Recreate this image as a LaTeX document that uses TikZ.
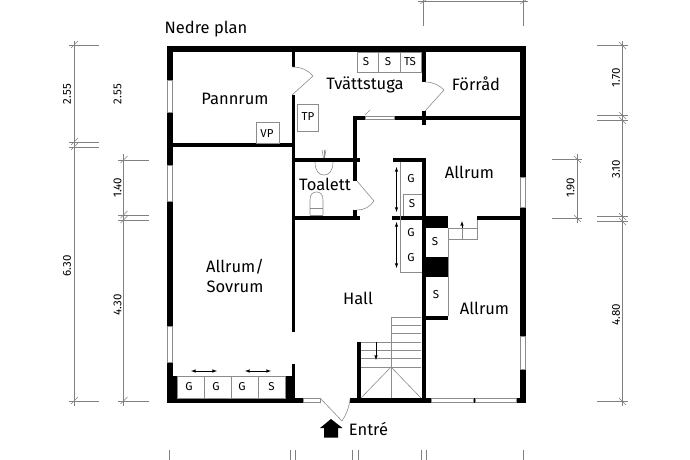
\documentclass[tikz,border=0pt]{standalone}
\usepackage{fontspec}
\setmainfont{Fira Sans}
\usetikzlibrary{arrows}

\begin{document}
\begin{tikzpicture}[x=1pt,y=-1pt]
	\tikzstyle{wall}=[fill=black,draw=none]
	\tikzstyle{fixture}=[draw=black!45,line width=0.6pt]
	\tikzstyle{dimline}=[draw=black!50,line width=0.5pt]
	\tikzstyle{pane}=[fill=white,draw=black!45,line width=0.8pt]
	\tikzstyle{room}=[inner sep=0pt,font=\fontsize{16.5}{20}\selectfont,align=center]
	\tikzstyle{unit}=[inner sep=0pt,font=\fontsize{11.5}{13}\selectfont]
	\tikzstyle{dimtext}=[inner sep=0pt,rotate=90,font=\fontsize{11.5}{13}\selectfont]
	\tikzstyle{slide}=[draw=black,line width=0.6pt,>=latex]
	\useasboundingbox (0,0) rectangle (690,460);
	% outer walls
	\fill[wall] (166.5,46) rectangle (526,52);
	\fill[wall] (166.5,46) rectangle (172.5,403);
	\fill[wall] (520,46) rectangle (526,403);
	\fill[wall] (166.5,398) rectangle (303,403);
	\fill[wall] (320,398) rectangle (321,403);
	\fill[wall] (350,398) rectangle (431,403);
	\fill[wall] (473,398) rectangle (475,403);
	\fill[wall] (516,398) rectangle (526,403);
	% inner walls
	\fill[wall] (291.5,46) rectangle (295,67);
	\fill[wall] (291.5,95) rectangle (295,332);
	\fill[wall] (291.5,364) rectangle (295,398);
	\fill[wall] (285,376) rectangle (295,398);
	\fill[wall] (172,376) rectangle (177,398);
	\fill[wall] (172,143) rectangle (292,147);
	\fill[wall] (295,157.5) rectangle (360,161.5);
	\fill[wall] (295,216) rectangle (360,220);
	\fill[wall] (352.5,116) rectangle (357,181);
	\fill[wall] (352.5,210) rectangle (357,217);
	\fill[wall] (352.5,116) rectangle (365,120);
	\fill[wall] (394,116) rectangle (520,120);
	\fill[wall] (421.5,46) rectangle (425.5,82);
	\fill[wall] (421.5,111) rectangle (425.5,125);
	\fill[wall] (393,158) rectangle (425.5,162);
	\fill[wall] (392,216) rectangle (425.5,220);
	\fill[wall] (421.5,158) rectangle (425.5,398);
	\fill[wall] (425,216) rectangle (448,228);
	\fill[wall] (425,257) rectangle (448,276.5);
	\fill[wall] (425,316) rectangle (448,320);
	\fill[wall] (477,216) rectangle (520,220);
	\fill[wall] (357,342) rectangle (361,398);
	% windows
	\filldraw[pane] (167,80) rectangle (172,112);
	\filldraw[pane] (167,165) rectangle (172,201);
	\filldraw[pane] (167,326) rectangle (172,362);
	\filldraw[pane] (520.5,177) rectangle (525.5,207);
	\filldraw[pane] (520.5,336) rectangle (525.5,369);
	\filldraw[pane] (431.5,398.5) rectangle (473,402.5);
	\filldraw[pane] (475,398.5) rectangle (516,402.5);
	\filldraw[pane] (303,398.5) rectangle (320,402.5);
	\filldraw[pane] (365,116.5) rectangle (394,119.5);
	\draw[fixture] (365,115) -- (370,110);
	% doors
	\draw[fixture] (292,67) .. controls (301,67) and (308,70) .. (313,76) -- (292,95);
	\draw[fixture] (425,82) .. controls (433,82) and (439,85) .. (444,90) -- (425,111);
	\draw[fixture] (357,181) -- (374,201) .. controls (370,207) and (364,210) .. (357,210);
	\draw[fixture] (321,399) -- (342,421) .. controls (346,415) and (349,408) .. (350,399);
	% units
	\draw[fixture] (357.5,52) rectangle (421.5,72);
	\draw[fixture] (378.5,52) -- (378.5,72);
	\draw[fixture] (400,52) -- (400,72);
	\draw[fixture] (256,122) rectangle (279,143);
	\draw[fixture] (297.5,104) rectangle (318.5,131);
	\draw[fixture] (177,376) rectangle (285,398);
	\draw[fixture] (204,376) -- (204,398);
	\draw[fixture] (231,376) -- (231,398);
	\draw[fixture] (258,376) -- (258,398);
	\draw[fixture] (400,162) -- (400,272) -- (421.5,272);
	\draw[fixture] (403.5,216) -- (403.5,194) -- (421.5,194);
	\draw[fixture] (448,228) -- (448,316);
	\draw[fixture] (448,228) -- (477,228);
	\draw[fixture] (477,220) -- (477,239) -- (448,239);
	\draw[fixture] (462,228) -- (462,239);
	% sink and toilet
	\draw[fixture] (315,162) .. controls (315,171) and (319,175) .. (324,175) .. controls (329,175) and (333,171) .. (333,162);
	\draw[fixture] (324,150) -- (324,158);
	\draw[fixture] (322,150) -- (323.5,158);
	\draw[fixture] (326,150) -- (324.5,158);
	\draw[fixture] (310,215) -- (310,200) .. controls (310,194) and (313,192) .. (316.5,192) .. controls (320,192) and (323,194) .. (323,200) -- (323,215);
	\draw[fixture] (310,208) -- (323,208);
	\draw[fixture] (310,215) -- (323,215);
	% stair
	\draw[fixture] (391,398) -- (391,317) -- (421,317);
	\draw[fixture] (391,325.5) -- (421,325.5);
	\draw[fixture] (391,333.5) -- (421,333.5);
	\draw[fixture] (361,342) -- (421,342);
	\draw[fixture] (361,350) -- (421,350);
	\draw[fixture] (361,358.5) -- (421,358.5);
	\draw[fixture] (361,367) -- (421,367);
	\draw[fixture] (361,398) -- (391,367) -- (421,398);
	\draw[slide,->] (376,342) -- (376,360);
	\draw[slide,->] (462,228) -- (462,221);
	\draw[slide,<->] (396.5,167) -- (396.5,212);
	\draw[slide,<->] (396.5,222) -- (396.5,268);
	\draw[slide,<->] (191,371) -- (217,371);
	\draw[slide,<->] (245,371) -- (271,371);
	% entrance
	\fill[wall] (331,419) -- (342.5,428) -- (338,428) -- (338,437.5) -- (324,437.5) -- (324,428) -- (320,428) -- cycle;
	% dimensions left
	\draw[dimline] (74,41) -- (74,406);
	\draw[dimline] (69,45) -- (99,45);
	\draw[dimline] (69,142) -- (99,142);
	\draw[dimline] (69,147) -- (99,147);
	\draw[dimline] (69,401) -- (99,401);
	\draw[dimline] (71,48) -- (78,41);
	\draw[dimline] (71,145) -- (78,138);
	\draw[dimline] (71,150) -- (78,143);
	\draw[dimline] (71,404) -- (78,397);
	\draw[dimline] (123.5,154) -- (123.5,406);
	\draw[dimline] (118,160) -- (149,160);
	\draw[dimline] (118,215) -- (149,215);
	\draw[dimline] (118,220) -- (149,220);
	\draw[dimline] (118,401) -- (149,401);
	\draw[dimline] (120.5,163) -- (127.5,156);
	\draw[dimline] (120.5,218) -- (127.5,211);
	\draw[dimline] (120.5,223) -- (127.5,216);
	\draw[dimline] (120.5,404) -- (127.5,397);
	% dimensions right
	\draw[dimline] (622.5,41) -- (622.5,406);
	\draw[dimline] (597,45) -- (628,45);
	\draw[dimline] (597,115) -- (628,115);
	\draw[dimline] (597,120) -- (628,120);
	\draw[dimline] (597,216) -- (628,216);
	\draw[dimline] (597,221) -- (628,221);
	\draw[dimline] (597,401) -- (628,401);
	\draw[dimline] (619,42) -- (626,49);
	\draw[dimline] (619,112) -- (626,119);
	\draw[dimline] (619,117) -- (626,124);
	\draw[dimline] (619,213) -- (626,220);
	\draw[dimline] (619,218) -- (626,225);
	\draw[dimline] (619,398) -- (626,405);
	\draw[dimline] (577,154) -- (577,223);
	\draw[dimline] (552,159) -- (582,159);
	\draw[dimline] (552,218) -- (582,218);
	\draw[dimline] (574,156) -- (581,163);
	\draw[dimline] (574,215) -- (581,222);
	% dimensions top and bottom
	\draw[dimline] (418,1) -- (528,1);
	\draw[dimline] (423,0) -- (423,26);
	\draw[dimline] (523,0) -- (523,26);
	\draw[dimline] (420,4) -- (426,0);
	\draw[dimline] (520,4) -- (526,0);
	\draw[dimline] (169,450) -- (169,460);
	\draw[dimline] (290,450) -- (290,460);
	\draw[dimline] (295,450) -- (295,460);
	\draw[dimline] (352,450) -- (352,460);
	\draw[dimline] (358,450) -- (358,460);
	\draw[dimline] (421,450) -- (421,460);
	\draw[dimline] (426,450) -- (426,460);
	\draw[dimline] (523,450) -- (523,460);
	% labels
	\node[room,anchor=west] (title) at (164.5,29) {Nedre plan};
	\node[room] (pannrum) at (235,99) {Pannrum};
	\node[room] (tvatt) at (365,85) {Tvättstuga};
	\node[room] (forrad) at (476,84) {Förråd};
	\node[room] (allrum1) at (469.5,172) {Allrum};
	\node[room] (toalett) at (325,184) {Toalett};
	\node[room] (sovrum) at (235,276) {Allrum/\\Sovrum};
	\node[room] (hall) at (358,298) {Hall};
	\node[room] (allrum2) at (484.5,308) {Allrum};
	\node[room] (entre) at (368.5,429) {Entré};
	\node[unit] (s1) at (366,62) {S};
	\node[unit] (s2) at (388,62) {S};
	\node[unit] (ts) at (410,62) {TS};
	\node[unit] (vp) at (267,134) {VP};
	\node[unit] (tp) at (308,117) {TP};
	\node[unit] (g1) at (411,179) {G};
	\node[unit] (s3) at (412,204) {S};
	\node[unit] (g2) at (411,233) {G};
	\node[unit] (g3) at (411,258) {G};
	\node[unit] (s4) at (435,242) {S};
	\node[unit] (s5) at (436,295) {S};
	\node[unit] (g4) at (189,387) {G};
	\node[unit] (g5) at (216,387) {G};
	\node[unit] (g6) at (242,387) {G};
	\node[unit] (s6) at (271.5,387) {S};
	\node[dimtext] (d1) at (67,94) {2.55};
	\node[dimtext] (d2) at (117.5,94) {2.55};
	\node[dimtext] (d3) at (117.5,188) {1.40};
	\node[dimtext] (d4) at (67,266) {6.30};
	\node[dimtext] (d5) at (117.5,305) {4.30};
	\node[dimtext] (d6) at (616,78) {1.70};
	\node[dimtext] (d7) at (616,169) {3.10};
	\node[dimtext] (d8) at (616,315) {4.80};
	\node[dimtext] (d9) at (570.5,188) {1.90};
\end{tikzpicture}
\end{document}
